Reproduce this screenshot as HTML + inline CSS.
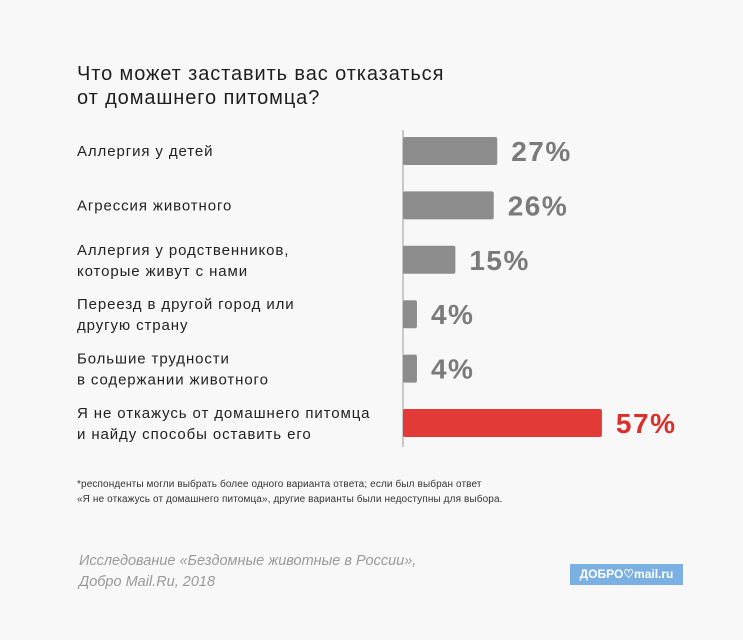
<!DOCTYPE html>
<html><head><meta charset="utf-8"><style>
body{margin:0;width:743px;height:640px;background:#f8f8f8;font-family:"Liberation Sans",sans-serif;position:relative;overflow:hidden}
.t{position:absolute;color:#222}
</style></head><body>
<div class="t" style="left:77px;top:62px;font-size:20px;line-height:24px;letter-spacing:0.9px;color:#1e1e1e">Что может заставить вас отказаться<br>от домашнего питомца?</div>
<svg id="c" width="743" height="470" style="position:absolute;left:0;top:0"></svg>
<div class="t" style="left:77px;top:477px;font-size:10px;line-height:15px;letter-spacing:0.12px;color:#333">*респонденты могли выбрать более одного варианта ответа; если был выбран ответ<br>«Я не откажусь от домашнего питомца», другие варианты были недоступны для выбора.</div>
<div class="t" style="left:79px;top:551px;font-size:14.5px;line-height:21px;color:#999;font-style:italic">Исследование «Бездомные животные в России»,<br>Добро Mail.Ru, 2018</div>
<div style="position:absolute;left:570px;top:564px;width:113px;height:21px;background:#7ab0e2;color:#fff;font-size:12px;font-weight:bold;line-height:21px;text-align:center">ДОБРО♡mail.ru</div>
<script>
const labels=[["Аллергия у детей"],["Агрессия животного"],["Аллергия у родственников,","которые живут с нами"],["Переезд в другой город или","другую страну"],["Большие трудности","в содержании животного"],["Я не откажусь от домашнего питомца","и найду способы оставить его"]];
const values=[27,26,15,4,4,57];
const highlight=[false,false,false,false,false,true];
const svg=document.getElementById('c');
const NS='http://www.w3.org/2000/svg';
const x0=403, sc=3.49;
const yPos=i=>137+i*54.4;
function mk(t,a,p){const e=document.createElementNS(NS,t);for(const k in a)e.setAttribute(k,a[k]);(p||svg).appendChild(e);return e;}
const ax=mk('line',{x1:x0,y1:130,x2:x0,y2:447,stroke:'#999','stroke-width':1});


values.forEach((v,i)=>{
  const y=yPos(i), w=v*sc, col=highlight[i]?'#e23a36':'#8c8c8c', tc=highlight[i]?'#d9302c':'#7a7a7a';
  const r=mk('rect',{x:x0,y:y,width:w,height:28,rx:2,fill:col});
  
  
  const t=mk('text',{x:x0+w+14,y:y+24,'font-size':28,'font-weight':'bold','letter-spacing':1.5,fill:tc,'font-family':'Liberation Sans, sans-serif'});
  t.textContent=v+'%';
  
  
  const L=labels[i];
  const lt=mk('text',{x:77,'font-size':15,'letter-spacing':0.9,fill:'#222','font-family':'Liberation Sans, sans-serif'});
  
  
  L.forEach((s,j)=>{const ts=mk('tspan',{x:77,y:(L.length==1?y+19:y+9)+j*21},lt);ts.textContent=s;});
});
</script>
</body></html>
